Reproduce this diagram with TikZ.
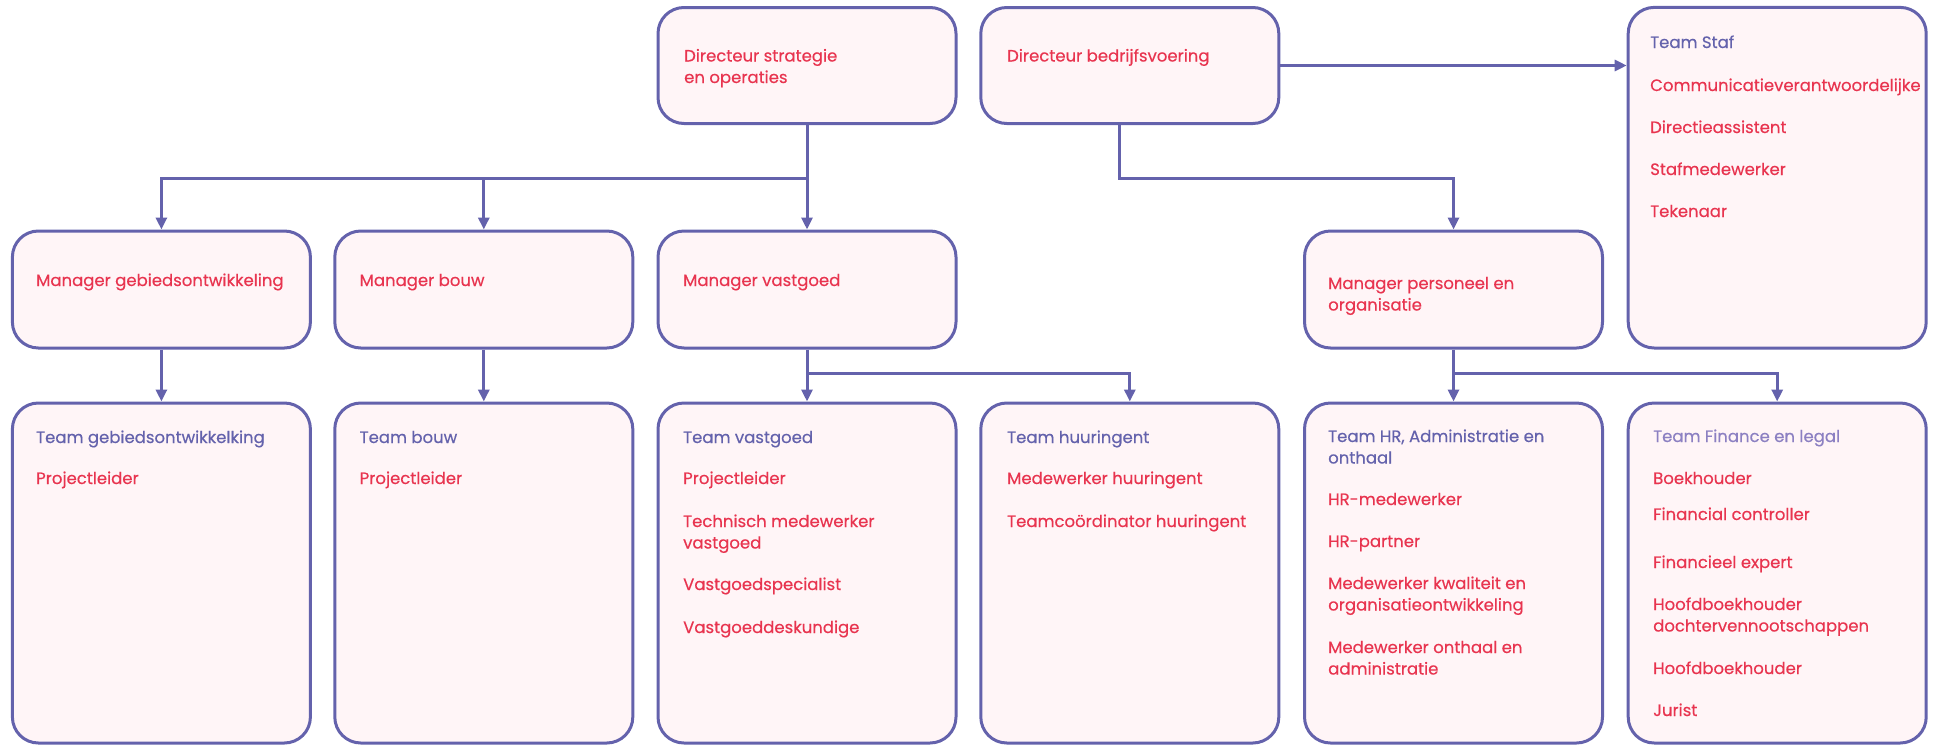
\documentclass[tikz,border=0pt]{standalone}
\usepackage{fontspec}
\setmainfont{Poppins}[FakeBold=0.4]
\usetikzlibrary{arrows.meta}
\definecolor{bordc}{HTML}{6462AC}
\definecolor{redt}{HTML}{E8344F}
\definecolor{fillc}{HTML}{FFF5F7}
\definecolor{lilac}{HTML}{8C80C2}
\begin{document}
\begin{tikzpicture}[x=1pt,y=-1pt,
  box/.style={draw=bordc, line width=3pt, fill=fillc, rounded corners=26pt, minimum width=298pt, inner sep=0pt},
  role/.style={anchor=base west, text=redt, font=\fontsize{16.5}{21.5}\selectfont, align=left, inner sep=0pt},
  head/.style={role, text=bordc},
  conn/.style={draw=bordc, line width=3pt, -{Triangle[length=12pt,width=11pt]}},
  ]
\useasboundingbox (0,0) rectangle (1937,745);
% top row
\node[box, minimum height=116pt] (dirS) at (807,65.5) {};
\node[box, minimum height=116pt] (dirB) at (1129.8,65.5) {};
\node[box, minimum height=340.6pt] (staf) at (1777.2,177.7) {};
% middle row
\node[box, minimum height=117pt] (mgrG) at (161.4,289.5) {};
\node[box, minimum height=117pt] (mgrB) at (483.8,289.5) {};
\node[box, minimum height=117pt] (mgrV) at (807,289.5) {};
\node[box, minimum height=117pt] (mgrP) at (1453.5,289.5) {};
% bottom row
\node[box, minimum height=340pt] (tG) at (161.4,573) {};
\node[box, minimum height=340pt] (tB) at (483.8,573) {};
\node[box, minimum height=340pt] (tV) at (807,573) {};
\node[box, minimum height=340pt] (tH) at (1129.8,573) {};
\node[box, minimum height=340pt] (tHR) at (1453.5,573) {};
\node[box, minimum height=340pt] (tF) at (1777.2,573) {};
% texts (multi-line nodes: base = last line)
\node[role] (xdirS) at (684,83) {Directeur strategie\\en operaties};
\node[role] (xdirB) at (1007,61.5) {Directeur bedrijfsvoering};
\node[role] (xmgrG) at (36,286) {Manager gebiedsontwikkeling};
\node[role] (xmgrB) at (359.5,286) {Manager bouw};
\node[role] (xmgrV) at (683,286) {Manager vastgoed};
\node[role] (xmgrP) at (1328,310.5) {Manager personeel en\\organisatie};
\node[head] (hstaf) at (1650,48) {Team Staf};
\node[role] (s1) at (1650,91) {Communicatieverantwoordelijke};
\node[role] (s2) at (1650,133) {Directieassistent};
\node[role] (s3) at (1650,175) {Stafmedewerker};
\node[role] (s4) at (1650,217) {Tekenaar};
\node[head] (htG) at (36,443) {Team gebiedsontwikkelking};
\node[role] (g1) at (36,484) {Projectleider};
\node[head] (htB) at (359.5,443) {Team bouw};
\node[role] (b1) at (359.5,484) {Projectleider};
\node[head] (htV) at (683,443) {Team vastgoed};
\node[role] (v1) at (683,484) {Projectleider};
\node[role] (v2) at (683,548.5) {Technisch medewerker\\vastgoed};
\node[role] (v3) at (683,590) {Vastgoedspecialist};
\node[role] (v4) at (683,633) {Vastgoeddeskundige};
\node[head] (htH) at (1007,443) {Team huuringent};
\node[role] (h1) at (1007,484) {Medewerker huuringent};
\node[role] (h2) at (1007,527) {Teamcoördinator huuringent};
\node[head] (htHR) at (1328,463.5) {Team HR, Administratie en\\onthaal};
\node[role] (r1) at (1328,505) {HR-medewerker};
\node[role] (r2) at (1328,547) {HR-partner};
\node[role] (r3) at (1328,610.5) {Medewerker kwaliteit en\\organisatieontwikkeling};
\node[role] (r4) at (1328,674.5) {Medewerker onthaal en\\administratie};
\node[head, text=lilac] (htF) at (1653,442) {Team Finance en legal};
\node[role] (f1) at (1653,484) {Boekhouder};
\node[role] (f2) at (1653,520) {Financial controller};
\node[role] (f3) at (1653,568) {Financieel expert};
\node[role] (f4) at (1653,631.5) {Hoofdboekhouder\\dochtervennootschappen};
\node[role] (f5) at (1653,674) {Hoofdboekhouder};
\node[role] (f6) at (1653,716) {Jurist};
% connectors
\coordinate (busA) at (807,178);
\coordinate (busB) at (1119,178);
\coordinate (busC) at (807,373);
\coordinate (busD) at (1453.5,373);
\draw[conn] (dirS.south) -- (mgrV.north);
\draw[conn] (busA) -| (mgrG.north);
\draw[conn] (busA) -| (mgrB.north);
\draw[conn] (dirB.south -| busB) -- (busB) -| (mgrP.north);
\draw[conn] (dirB.east) -- (dirB.east -| staf.west);
\draw[conn] (mgrG.south) -- (tG.north);
\draw[conn] (mgrB.south) -- (tB.north);
\draw[conn] (mgrV.south) -- (tV.north);
\draw[conn] (busC) -| (tH.north);
\draw[conn] (mgrP.south) -- (tHR.north);
\draw[conn] (busD) -| (tF.north);
\end{tikzpicture}
\end{document}
